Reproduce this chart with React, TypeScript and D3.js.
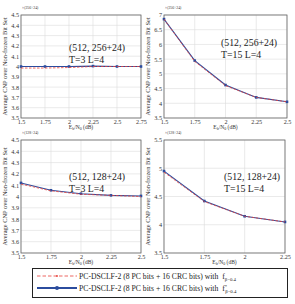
import React, { useEffect, useRef } from 'react';
import * as d3 from 'd3';

// E_b/N_0 values per panel
const xTL = [1.5, 1.75, 2, 2.25, 2.5, 2.75];
const xTR = [1.5, 1.75, 2, 2.25, 2.5];
const xBL = [1.5, 1.75, 2, 2.25, 2.5];
const xBR = [1.5, 1.75, 2, 2.25];

// f*_{beta=0.4} (blue) and f_{beta=0.4} (red)
const blueTL = [4.0, 4.0, 4.0, 4.004, 4.0, 4.0];
const redTL = [3.985, 3.985, 3.99, 4.0, 4.0, 4.0];
const blueTR = [6.86, 5.45, 4.62, 4.2, 4.05];
const redTR = [6.86, 5.42, 4.6, 4.2, 4.05];
const blueBL = [4.12, 4.055, 4.025, 4.01, 4.005];
const redBL = [4.11, 4.05, 4.02, 4.01, 4.0];
const blueBR = [4.95, 4.42, 4.15, 4.05];
const redBR = [4.93, 4.41, 4.15, 4.05];

const yTicksSmall = [3.5, 3.6, 3.7, 3.8, 3.9, 4, 4.1, 4.2, 4.3, 4.4, 4.5];
const yTicksTR = [3.5, 4, 4.5, 5, 5.5, 6, 6.5, 7];
const yTicksBR = [3.5, 4, 4.5, 5, 5.5];

const panels = [
  { x: xTL, blue: blueTL, red: redTL, yTicks: yTicksSmall, yDom: [3.5, 4.5], box: [21, 15, 141, 118], scale: '×(256+24)', l1: '(512, 256+24)', l2: 'T=3 L=4', lx: 69, ly: 51 },
  { x: xTR, blue: blueTR, red: redTR, yTicks: yTicksTR, yDom: [3.5, 7], box: [164, 15, 287, 118], scale: '×(256+24)', l1: '(512, 256+24)', l2: 'T=15 L=4', lx: 221, ly: 46 },
  { x: xBL, blue: blueBL, red: redBL, yTicks: yTicksSmall, yDom: [3.5, 4.5], box: [21, 140, 141, 253], scale: '×(128+24)', l1: '(512, 128+24)', l2: 'T=3 L=4', lx: 69, ly: 180 },
  { x: xBR, blue: blueBR, red: redBR, yTicks: yTicksBR, yDom: [3.5, 5.5], box: [164, 140, 285, 253], scale: '×(128+24)', l1: '(512, 128+24)', l2: 'T=15 L=4', lx: 224, ly: 180 },
];

const font = 'Liberation Serif, Times New Roman, serif';
const blue = '#2b4c9e';
const red = '#e8403a';

export default function App() {
  const svgRef = useRef<SVGSVGElement>(null);

  useEffect(() => {
    const svg = d3.select(svgRef.current);
    svg.selectAll('*').remove();

    panels.forEach(p => {
      const [x0, y0, x1, y1] = p.box;
      const xs = d3.scaleLinear().domain([p.x[0], p.x[p.x.length - 1]]).range([x0, x1]);
      const ys = d3.scaleLinear().domain(p.yDom).range([y1, y0]);
      const g = svg.append('g');

      // grid
      g.selectAll('.gx').data(p.x).join('line')
        .attr('x1', d => xs(d)).attr('x2', d => xs(d))
        .attr('y1', y0).attr('y2', y1)
        .attr('stroke', '#dcdcdc').attr('stroke-width', 0.6);
      g.selectAll('.gy').data(p.yTicks).join('line')
        .attr('x1', x0).attr('x2', x1)
        .attr('y1', d => ys(d)).attr('y2', d => ys(d))
        .attr('stroke', '#dcdcdc').attr('stroke-width', 0.6);

      // axes
      const xAxis = d3.axisBottom(xs).tickValues(p.x).tickSize(0).tickPadding(2).tickFormat(d => String(d));
      const yAxis = d3.axisLeft(ys).tickValues(p.yTicks).tickSize(0).tickPadding(2).tickFormat(d => String(d));
      const ax = g.append('g').attr('transform', `translate(0,${y1})`).call(xAxis);
      const ay = g.append('g').attr('transform', `translate(${x0},0)`).call(yAxis);
      [ax, ay].forEach(a => {
        a.select('.domain').remove();
        a.selectAll('text').attr('font-family', font).attr('font-size', 6.2).attr('fill', '#333');
      });

      g.append('rect')
        .attr('x', x0).attr('y', y0).attr('width', x1 - x0).attr('height', y1 - y0)
        .attr('fill', 'none').attr('stroke', '#666').attr('stroke-width', 0.8);

      // lines
      const line = d3.line<number>().x((d, i) => xs(p.x[i])).y(d => ys(d));
      g.append('path').attr('d', line(p.blue)).attr('fill', 'none')
        .attr('stroke', blue).attr('stroke-width', 1.1);
      g.selectAll('.pt').data(p.blue).join('rect')
        .attr('x', (d, i) => xs(p.x[i]) - 1.3).attr('y', d => ys(d) - 1.3)
        .attr('width', 2.6).attr('height', 2.6).attr('fill', blue);
      g.append('path').attr('d', line(p.red)).attr('fill', 'none')
        .attr('stroke', red).attr('stroke-width', 0.8).attr('stroke-dasharray', '2.5,1.5');

      // texts
      g.append('text').attr('x', (x0 + x1) / 2).attr('y', y1 + 11)
        .attr('text-anchor', 'middle').attr('font-family', font).attr('font-size', 5.5).attr('fill', '#333')
        .html('E<tspan font-size="4" dy="1">b</tspan><tspan dy="-1">/N</tspan><tspan font-size="4" dy="1">0</tspan><tspan dy="-1"> (dB)</tspan>');
      g.append('text')
        .attr('transform', `translate(${x0 - 14},${(y0 + y1) / 2}) rotate(-90)`)
        .attr('text-anchor', 'middle').attr('font-family', font).attr('font-size', 6.4).attr('fill', '#333')
        .text('Average CNP over Non-frozen Bit Set');
      g.append('text').attr('x', x0 + 1).attr('y', y0 - 6)
        .attr('font-family', font).attr('font-size', 3.8).attr('fill', '#333').text(p.scale);
      g.append('text').attr('x', p.lx).attr('y', p.ly)
        .attr('font-family', font).attr('font-size', 9.8).attr('fill', '#222').text(p.l1);
      g.append('text').attr('x', p.lx).attr('y', p.ly + 12)
        .attr('font-family', font).attr('font-size', 9.8).attr('fill', '#222').text(p.l2);
    });

    // legend
    const lg = svg.append('g');
    lg.append('rect').attr('x', 32.5).attr('y', 268.5).attr('width', 255).attr('height', 29)
      .attr('fill', 'white').attr('stroke', '#222').attr('stroke-width', 1);
    lg.append('line').attr('x1', 37).attr('x2', 77).attr('y1', 276).attr('y2', 276)
      .attr('stroke', red).attr('stroke-width', 0.8).attr('stroke-dasharray', '3.5,2');
    lg.append('circle').attr('cx', 57).attr('cy', 276).attr('r', 0.9).attr('fill', red);
    lg.append('line').attr('x1', 37).attr('x2', 77).attr('y1', 288).attr('y2', 288)
      .attr('stroke', blue).attr('stroke-width', 2);
    lg.append('circle').attr('cx', 57).attr('cy', 288).attr('r', 2).attr('fill', blue);
    const txt = 'PC-DSCLF-2 (8 PC bits + 16 CRC bits) with';
    [[279, ''], [291, '*']].forEach(([y, star]) => {
      const t = lg.append('text').attr('x', 79).attr('y', y as number)
        .attr('font-family', font).attr('font-size', 7.7).attr('fill', '#222');
      t.html(`${txt} <tspan dx="2">f</tspan><tspan font-size="4.8" dy="-3">${star}</tspan><tspan font-size="4.8" dy="${star ? 5 : 2}" dx="${star ? -2 : 0}">β=0.4</tspan>`);
    });
  }, []);

  return (
    <svg ref={svgRef} width={295} height={304}
      style={{ position: 'absolute', left: 0, top: 0, background: 'white' }} />
  );
}
